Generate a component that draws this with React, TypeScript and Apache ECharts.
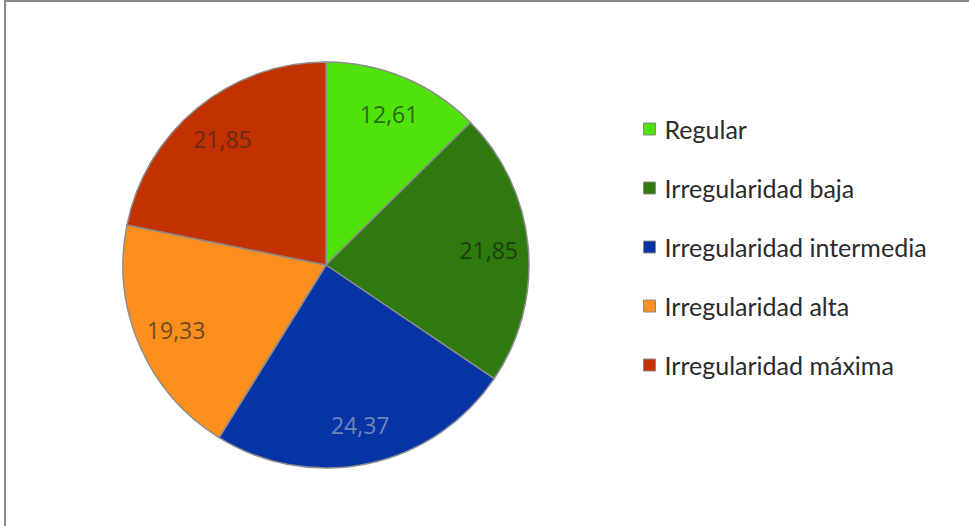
import React, { useEffect, useRef } from "react";
import * as echarts from "echarts";

const categories = [
  "Regular",
  "Irregularidad baja",
  "Irregularidad intermedia",
  "Irregularidad alta",
  "Irregularidad máxima",
];
const values = [12.61, 21.85, 24.37, 19.33, 21.85];
const sliceColors = ["#4fe30b", "#2f7a0f", "#0634a6", "#fd8f1f", "#c13200"];
const labelColors = ["#2c6a18", "#1e3e12", "#7186ba", "#6e4c22", "#6a2a1a"];

export default function App() {
  const ref = useRef<HTMLDivElement>(null);
  useEffect(() => {
    if (!ref.current) return;
    const chart = echarts.init(ref.current, null, { renderer: "svg" });
    const R = 203;
    const fmt = (v: number) => v.toFixed(2).replace(".", ",");
    chart.setOption({
      animation: false,
      backgroundColor: "#ffffff",
      graphic: [
        {
          type: "rect",
          shape: { x: 5, y: 1, width: 1200, height: 1200 },
          style: { fill: "none", stroke: "#8a8a8a", lineWidth: 2 },
          silent: true,
        },
      ],
      legend: {
        orient: "vertical",
        left: 638,
        top: 111,
        icon: "rect",
        itemWidth: 12,
        itemHeight: 12,
        itemGap: 33,
        data: categories,
        textStyle: {
          fontFamily: "Lato",
          fontSize: 25,
          color: "#2a2a2a",
          lineHeight: 26,
          padding: [0, 0, 0, 4],
        },
        itemStyle: { borderColor: "#8a8a8a", borderWidth: 1 },
      },
      series: [
        {
          type: "pie",
          center: [326, 265],
          radius: [0, R],
          startAngle: 90,
          clockwise: true,
          label: { show: false },
          labelLine: { show: false },
          itemStyle: { borderColor: "#8c8c8c", borderWidth: 1.5 },
          emphasis: { disabled: true },
          data: categories.map((c, i) => ({
            name: c,
            value: values[i],
            itemStyle: { color: sliceColors[i] },
          })),
        },
        {
          type: "pie",
          center: [326, 265],
          radius: [R * 0.58, R],
          startAngle: 90,
          clockwise: true,
          silent: true,
          labelLine: { show: false },
          itemStyle: { color: "rgba(0,0,0,0)", borderWidth: 0 },
          emphasis: { disabled: true },
          label: {
            show: true,
            position: "inside",
            fontFamily: "Open Sans",
            fontSize: 23,
            formatter: (p: any) => fmt(p.value),
          },
          data: categories.map((c, i) => ({
            name: c,
            value: values[i],
            label: { color: labelColors[i] },
          })),
        },
      ],
    });
    return () => chart.dispose();
  }, []);
  return (
    <div
      ref={ref}
      style={{ position: "fixed", left: 0, top: 0, width: 969, height: 526 }}
    />
  );
}
